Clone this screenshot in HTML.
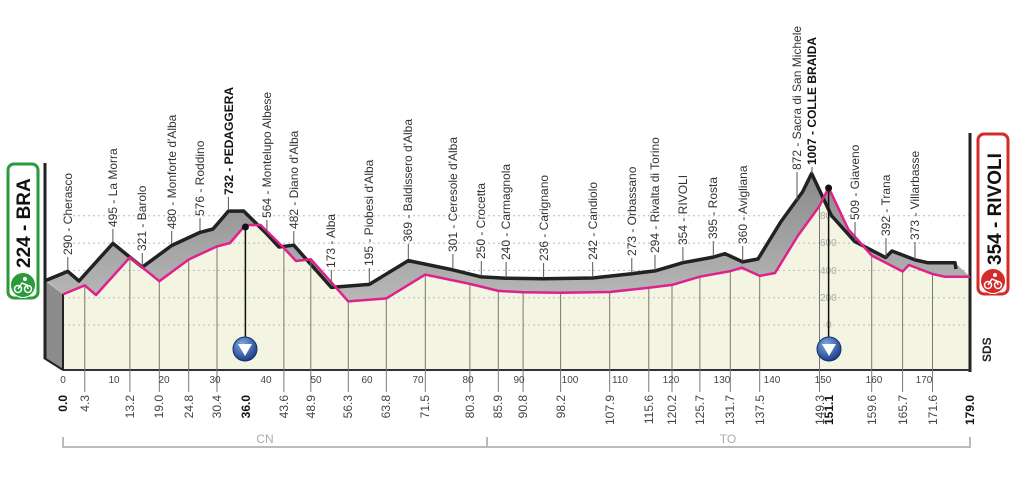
<!DOCTYPE html>
<html><head><meta charset="utf-8"><style>
html,body{margin:0;padding:0;background:#fff;}
svg{display:block;}
.l{font-family:"Liberation Sans Narrow","Liberation Sans",sans-serif;font-size:12px;fill:#333;}
.b{font-weight:bold;fill:#111;}
.k{font-family:"Liberation Sans Narrow","Liberation Sans",sans-serif;font-size:12px;fill:#444;}
.t{font-family:"Liberation Sans Narrow","Liberation Sans",sans-serif;font-size:10px;fill:#444;}
</style></head><body>
<svg width="1024" height="483" viewBox="0 0 1024 483">
<defs>
<linearGradient id="gg" x1="0" y1="0" x2="0" y2="1"><stop offset="0" stop-color="#8a8a8a"/><stop offset="1" stop-color="#b8b8b8"/></linearGradient>
<radialGradient id="bl" cx="0.4" cy="0.3" r="0.7"><stop offset="0" stop-color="#7fa8e0"/><stop offset="1" stop-color="#1d3f8a"/></radialGradient>
</defs>
<!-- cream area -->
<polygon fill="#f4f4e2" points="63,370 63,294.4 84.8,285.4 96,295 129.9,257.4 159.3,281.2 188.7,259.5 217,246.4 230,243 245.4,225.1 260.6,225 283.9,248 296,261 310.8,259.2 348.3,301.4 386.3,298.4 425.3,274.6 469.9,283.9 498.3,290.9 523.1,292.2 560.6,292.8 609.7,292 648.8,287.7 672,284.9 699.9,276.7 730.3,271.1 742,267.7 759.7,275.9 775,273 797.7,236 819.5,206 828.6,187.5 848.4,229.5 871.7,255.5 902.6,271.5 909,265 932.5,274 944.6,276.7 970,276.7 970,370"/>
<!-- grid -->
<g stroke="#bbb" stroke-dasharray="2,3" stroke-width="1">
<line x1="63" y1="325" x2="970" y2="325"/><line x1="63" y1="297.7" x2="970" y2="297.7"/><line x1="63" y1="270.4" x2="970" y2="270.4"/><line x1="63" y1="243.1" x2="970" y2="243.1"/><line x1="63" y1="215.8" x2="970" y2="215.8"/>
</g>
<g class="t" fill="#999" style="fill:#aaa">
<text x="826" y="328">0</text><text x="820" y="301">200</text><text x="820" y="274">400</text><text x="820" y="246">600</text><text x="820" y="219">800</text>
</g>
<!-- gray back band -->
<polygon fill="url(#gg)" points="46,280.4 67.8,271.4 79,281 112.9,243.4 142.3,267.2 171.7,245.5 200,232.4 213,229 228.4,211.1 243.6,211 266.9,234 279,247 293.8,245.2 331.3,287.4 369.3,284.4 408.3,260.6 452.9,269.9 481.3,276.9 506.1,278.2 543.6,278.8 592.7,278 631.8,273.7 655,270.9 682.9,262.7 713.3,257.1 725,253.7 742.7,261.9 758,259 780.7,222 802.5,192 811.6,173.5 831.4,215.5 854.7,241.5 885.6,257.5 892,251 915.5,260 927.6,262.7 955,262.7 970,276.7 944.6,276.7 932.5,274 909,265 902.6,271.5 871.7,255.5 848.4,229.5 828.6,187.5 819.5,206 797.7,236 775,273 759.7,275.9 742,267.7 730.3,271.1 699.9,276.7 672,284.9 648.8,287.7 609.7,292 560.6,292.8 523.1,292.2 498.3,290.9 469.9,283.9 425.3,274.6 386.3,298.4 348.3,301.4 310.8,259.2 296,261 283.9,248 260.6,225 245.4,225.1 230,243 217,246.4 188.7,259.5 159.3,281.2 129.9,257.4 96,295 84.8,285.4 63,294.4"/>
<!-- side face -->
<polygon fill="#8c8c8c" points="45,280.4 63,294.4 63,370 45,358"/>
<line x1="45" y1="163" x2="45" y2="359" stroke="#222" stroke-width="3"/>
<line x1="44" y1="358" x2="63" y2="370" stroke="#222" stroke-width="2"/>
<line x1="63" y1="294" x2="63" y2="370" stroke="#222" stroke-width="2"/>
<line x1="970" y1="133" x2="970" y2="372" stroke="#222" stroke-width="3"/>
<line x1="63" y1="370" x2="970" y2="370" stroke="#333" stroke-width="2"/>
<!-- back line -->
<polyline fill="none" stroke="#222" stroke-width="3.5" stroke-linejoin="round" points="46,280.4 67.8,271.4 79,281 112.9,243.4 142.3,267.2 171.7,245.5 200,232.4 213,229 228.4,211.1 243.6,211 266.9,234 279,247 293.8,245.2 331.3,287.4 369.3,284.4 408.3,260.6 452.9,269.9 481.3,276.9 506.1,278.2 543.6,278.8 592.7,278 631.8,273.7 655,270.9 682.9,262.7 713.3,257.1 725,253.7 742.7,261.9 758,259 780.7,222 802.5,192 811.6,173.5 831.4,215.5 854.7,241.5 885.6,257.5 892,251 915.5,260 927.6,262.7 955,262.7 956,269"/>
<!-- front vertical lines -->
<g stroke="#777" stroke-width="1">
<line x1="84.8" y1="285" x2="84.8" y2="392"/><line x1="129.9" y1="257" x2="129.9" y2="392"/><line x1="159.3" y1="281" x2="159.3" y2="392"/><line x1="188.7" y1="260" x2="188.7" y2="392"/><line x1="217" y1="246" x2="217" y2="392"/><line x1="283.9" y1="248" x2="283.9" y2="392"/><line x1="310.8" y1="259" x2="310.8" y2="392"/><line x1="348.3" y1="301" x2="348.3" y2="392"/><line x1="386.3" y1="298" x2="386.3" y2="392"/><line x1="425.3" y1="275" x2="425.3" y2="392"/><line x1="469.9" y1="284" x2="469.9" y2="392"/><line x1="498.3" y1="291" x2="498.3" y2="392"/><line x1="523.1" y1="292" x2="523.1" y2="392"/><line x1="560.6" y1="293" x2="560.6" y2="392"/><line x1="609.7" y1="292" x2="609.7" y2="392"/><line x1="648.8" y1="288" x2="648.8" y2="392"/><line x1="672" y1="285" x2="672" y2="392"/><line x1="699.9" y1="277" x2="699.9" y2="392"/><line x1="730.3" y1="271" x2="730.3" y2="392"/><line x1="759.7" y1="276" x2="759.7" y2="392"/><line x1="819.5" y1="206" x2="819.5" y2="392"/><line x1="871.7" y1="255" x2="871.7" y2="392"/><line x1="902.6" y1="271" x2="902.6" y2="392"/><line x1="932.5" y1="274" x2="932.5" y2="392"/>
</g>
<!-- pink line -->
<polyline fill="none" stroke="#e0208c" stroke-width="2.5" stroke-linejoin="round" points="63,294.4 84.8,285.4 96,295 129.9,257.4 159.3,281.2 188.7,259.5 217,246.4 230,243 245.4,225.1 260.6,225 283.9,248 296,261 310.8,259.2 348.3,301.4 386.3,298.4 425.3,274.6 469.9,283.9 498.3,290.9 523.1,292.2 560.6,292.8 609.7,292 648.8,287.7 672,284.9 699.9,276.7 730.3,271.1 742,267.7 759.7,275.9 775,273 797.7,236 819.5,206 828.6,187.5 848.4,229.5 871.7,255.5 902.6,271.5 909,265 932.5,274 944.6,276.7 970,276.7"/>
<!-- leaders -->
<g stroke="#555" stroke-width="1">
<line x1="67.8" y1="257" x2="67.8" y2="270"/><line x1="112.9" y1="229" x2="112.9" y2="242"/><line x1="142.3" y1="253" x2="142.3" y2="266"/><line x1="171.7" y1="231" x2="171.7" y2="244"/><line x1="200" y1="218" x2="200" y2="231"/><line x1="228.4" y1="197" x2="228.4" y2="210"/><line x1="266.9" y1="220" x2="266.9" y2="233"/><line x1="293.8" y1="231" x2="293.8" y2="244"/><line x1="331.3" y1="270" x2="331.3" y2="286"/><line x1="369.3" y1="268" x2="369.3" y2="283"/><line x1="408.3" y1="244" x2="408.3" y2="259"/><line x1="452.9" y1="254" x2="452.9" y2="269"/><line x1="481.3" y1="261" x2="481.3" y2="276"/><line x1="506.1" y1="262" x2="506.1" y2="277"/><line x1="543.6" y1="263" x2="543.6" y2="278"/><line x1="592.7" y1="262" x2="592.7" y2="277"/><line x1="631.8" y1="258" x2="631.8" y2="273"/><line x1="655" y1="255" x2="655" y2="270"/><line x1="682.9" y1="247" x2="682.9" y2="262"/><line x1="713.3" y1="241" x2="713.3" y2="256"/><line x1="742.7" y1="246" x2="742.7" y2="261"/><line x1="797" y1="172" x2="797" y2="200"/><line x1="812" y1="167" x2="812" y2="174"/><line x1="855" y1="222" x2="855" y2="241"/><line x1="886" y1="238" x2="886" y2="257"/><line x1="915" y1="242" x2="915" y2="259"/>
</g>
<!-- top labels -->
<g class="l">
<text transform="translate(72,255) rotate(-90)">290 - Cherasco</text>
<text transform="translate(117,227) rotate(-90)">495 - La Morra</text>
<text transform="translate(146,251) rotate(-90)">321 - Barolo</text>
<text transform="translate(176,229) rotate(-90)">480 - Monforte d'Alba</text>
<text transform="translate(204,216) rotate(-90)">576 - Roddino</text>
<text class="b" transform="translate(233,195) rotate(-90)">732 - PEDAGGERA</text>
<text transform="translate(271,218) rotate(-90)">564 - Montelupo Albese</text>
<text transform="translate(298,229) rotate(-90)">482 - Diano d'Alba</text>
<text transform="translate(335,268) rotate(-90)">173 - Alba</text>
<text transform="translate(373,266) rotate(-90)">195 - Piobesi d'Alba</text>
<text transform="translate(412,242) rotate(-90)">369 - Baldissero d'Alba</text>
<text transform="translate(457,252) rotate(-90)">301 - Ceresole d'Alba</text>
<text transform="translate(485,259) rotate(-90)">250 - Crocetta</text>
<text transform="translate(510,260) rotate(-90)">240 - Carmagnola</text>
<text transform="translate(548,261) rotate(-90)">236 - Carignano</text>
<text transform="translate(597,260) rotate(-90)">242 - Candiolo</text>
<text transform="translate(636,256) rotate(-90)">273 - Orbassano</text>
<text transform="translate(659,253) rotate(-90)">294 - Rivalta di Torino</text>
<text transform="translate(687,245) rotate(-90)">354 - RIVOLI</text>
<text transform="translate(717,239) rotate(-90)">395 - Rosta</text>
<text transform="translate(747,244) rotate(-90)">360 - Avigliana</text>
<text transform="translate(801,170) rotate(-90)">872 - Sacra di San Michele</text>
<text class="b" transform="translate(816,165) rotate(-90)">1007 - COLLE BRAIDA</text>
<text transform="translate(859,220) rotate(-90)">509 - Giaveno</text>
<text transform="translate(890,236) rotate(-90)">392 - Trana</text>
<text transform="translate(919,240) rotate(-90)">373 - Villarbasse</text>
</g>
<!-- km tick numbers -->
<g class="t" text-anchor="middle">
<text x="63" y="383">0</text><text x="114" y="383">10</text><text x="164" y="383">20</text><text x="215" y="383">30</text><text x="266" y="383">40</text><text x="316" y="383">50</text><text x="367" y="383">60</text><text x="418" y="383">70</text><text x="468" y="383">80</text><text x="519" y="383">90</text><text x="570" y="383">100</text><text x="620" y="383">110</text><text x="671" y="383">120</text><text x="722" y="383">130</text><text x="772" y="383">140</text><text x="823" y="383">150</text><text x="874" y="383">160</text><text x="924" y="383">170</text>
</g>
<!-- km labels -->
<g class="k" text-anchor="end">
<text class="b" transform="translate(67,395) rotate(-90)">0.0</text>
<text transform="translate(89,395) rotate(-90)">4.3</text>
<text transform="translate(134,395) rotate(-90)">13.2</text>
<text transform="translate(163,395) rotate(-90)">19.0</text>
<text transform="translate(193,395) rotate(-90)">24.8</text>
<text transform="translate(221,395) rotate(-90)">30.4</text>
<text class="b" transform="translate(250,395) rotate(-90)">36.0</text>
<text transform="translate(288,395) rotate(-90)">43.6</text>
<text transform="translate(315,395) rotate(-90)">48.9</text>
<text transform="translate(352,395) rotate(-90)">56.3</text>
<text transform="translate(390,395) rotate(-90)">63.8</text>
<text transform="translate(429,395) rotate(-90)">71.5</text>
<text transform="translate(474,395) rotate(-90)">80.3</text>
<text transform="translate(502,395) rotate(-90)">85.9</text>
<text transform="translate(527,395) rotate(-90)">90.8</text>
<text transform="translate(565,395) rotate(-90)">98.2</text>
<text transform="translate(614,395) rotate(-90)">107.9</text>
<text transform="translate(653,395) rotate(-90)">115.6</text>
<text transform="translate(676,395) rotate(-90)">120.2</text>
<text transform="translate(704,395) rotate(-90)">125.7</text>
<text transform="translate(734,395) rotate(-90)">131.7</text>
<text transform="translate(764,395) rotate(-90)">137.5</text>
<text transform="translate(824,395) rotate(-90)">149.3</text>
<text class="b" transform="translate(833,395) rotate(-90)">151.1</text>
<text transform="translate(876,395) rotate(-90)">159.6</text>
<text transform="translate(907,395) rotate(-90)">165.7</text>
<text transform="translate(937,395) rotate(-90)">171.6</text>
<text class="b" transform="translate(974,395) rotate(-90)">179.0</text>
</g>
<!-- province brackets -->
<g stroke="#bbb" stroke-width="2" fill="none">
<polyline points="63,437 63,447 970,447 970,437"/>
<line x1="487" y1="437" x2="487" y2="447"/>
</g>
<text x="265" y="443" text-anchor="middle" class="t" style="fill:#aaa;font-size:12px">CN</text>
<text x="728" y="443" text-anchor="middle" class="t" style="fill:#aaa;font-size:12px">TO</text>
<!-- GPM markers -->
<line x1="245.4" y1="227" x2="245.4" y2="340" stroke="#111" stroke-width="1.5"/>
<circle cx="245.4" cy="227" r="3.5" fill="#111"/>
<circle cx="245" cy="349" r="12" fill="url(#bl)" stroke="#123070" stroke-width="1"/>
<polygon points="238,344 252,344 245,356" fill="#fff"/>
<line x1="828.6" y1="188" x2="828.6" y2="340" stroke="#111" stroke-width="1.5"/>
<circle cx="828.6" cy="188" r="3.5" fill="#111"/>
<circle cx="829" cy="349" r="12" fill="url(#bl)" stroke="#123070" stroke-width="1"/>
<polygon points="822,344 836,344 829,356" fill="#fff"/>
<!-- start badge -->
<rect x="8" y="164" width="30" height="134" rx="6" fill="#fff" stroke="#2a9a3a" stroke-width="3"/>
<text transform="translate(30,268) rotate(-90)" style="font-family:'Liberation Sans',sans-serif;font-weight:bold;font-size:19px;fill:#111">224 - BRA</text>
<circle cx="23" cy="285" r="12.5" fill="#2a9a3a" stroke="#fff" stroke-width="1"/>
<circle cx="18" cy="289" r="3.5" fill="none" stroke="#fff" stroke-width="1.5"/><circle cx="28" cy="289" r="3.5" fill="none" stroke="#fff" stroke-width="1.5"/>
<circle cx="25" cy="279" r="2" fill="#fff"/><path d="M18 289 L22 283 L27 285 L28 289" stroke="#fff" stroke-width="1.5" fill="none"/>
<!-- finish badge -->
<rect x="978" y="134" width="30" height="160" rx="6" fill="#fff" stroke="#d42a2a" stroke-width="3"/>
<text transform="translate(1001,265) rotate(-90)" style="font-family:'Liberation Sans',sans-serif;font-weight:bold;font-size:19px;fill:#111">354 - RIVOLI</text>
<circle cx="993" cy="281" r="12.5" fill="#d42a2a" stroke="#fff" stroke-width="1"/>
<circle cx="988" cy="285" r="3.5" fill="none" stroke="#fff" stroke-width="1.5"/><circle cx="998" cy="285" r="3.5" fill="none" stroke="#fff" stroke-width="1.5"/>
<circle cx="995" cy="275" r="2" fill="#fff"/><path d="M988 285 L992 279 L997 281 L998 285" stroke="#fff" stroke-width="1.5" fill="none"/>
<text transform="translate(991,362) rotate(-90)" style="font-family:'Liberation Sans',sans-serif;font-weight:bold;font-size:12px;fill:#222">SDS</text>
</svg>
</body></html>
